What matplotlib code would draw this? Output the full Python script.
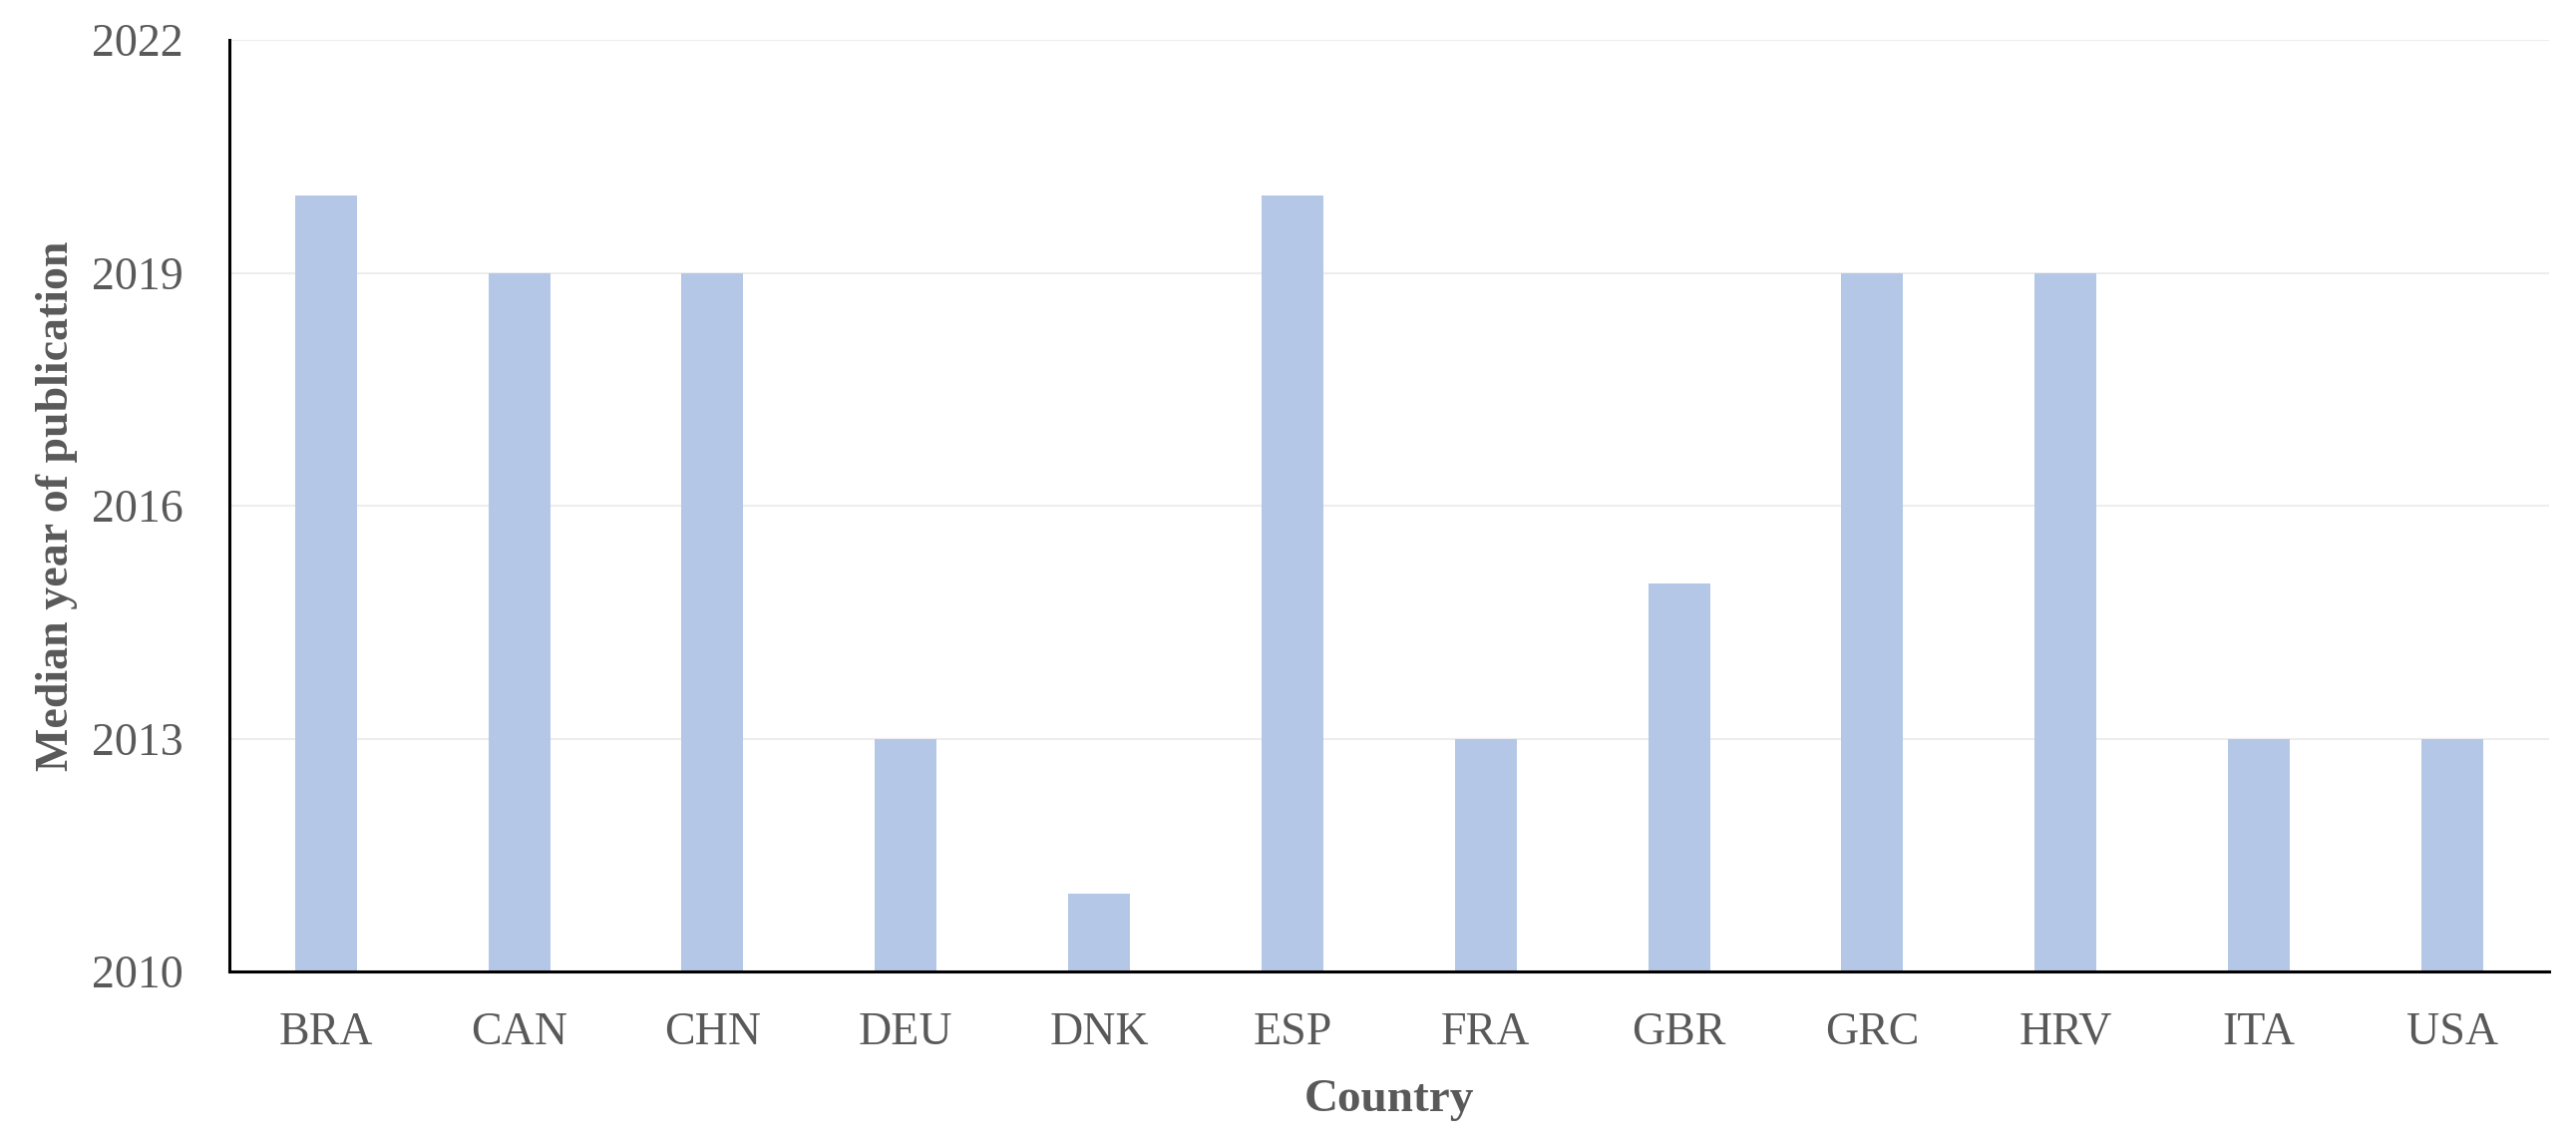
import matplotlib.pyplot as plt
import numpy as np

countries = ["BRA", "CAN", "CHN", "DEU", "DNK", "ESP", "FRA", "GBR", "GRC", "HRV", "ITA", "USA"]
median_year = [2020, 2019, 2019, 2013, 2011, 2020, 2013, 2015, 2019, 2019, 2013, 2013]
yticks = [2010, 2013, 2016, 2019, 2022]

plt.rcParams['font.family'] = ['Liberation Serif', 'DejaVu Serif']
text_col = "#595959"

fig = plt.figure(figsize=(25.83, 11.5), dpi=100)
ax = fig.add_axes([0.089, 0.153, 0.9005, 0.812])

x = np.arange(len(countries))
ax.bar(x, np.array(median_year) - 2010, bottom=2010, width=0.32, color="#B4C7E7", zorder=2)

ax.set_xlim(-0.5, len(countries) - 0.5)
ax.set_ylim(2010, 2022)
ax.set_yticks(yticks)
ax.set_xticks(x)
ax.set_xticklabels(countries)
ax.yaxis.grid(True, color="#EDEDED", linewidth=1.5, zorder=0)
ax.set_axisbelow(True)

for s in ["top", "right"]:
    ax.spines[s].set_visible(False)
ax.spines["left"].set_linewidth(2.2)
ax.spines["bottom"].set_linewidth(2.2)
ax.spines["left"].set_color("black")
ax.spines["bottom"].set_color("black")

ax.tick_params(axis="both", length=0, labelsize=33, labelcolor=text_col)
ax.tick_params(axis="y", pad=33)
ax.tick_params(axis="x", pad=29)

ax.set_xlabel("Country", fontsize=34, fontweight="bold", color=text_col, labelpad=18)
ax.set_ylabel("Median year of publication", fontsize=33, fontweight="bold", color=text_col, labelpad=10)

fig.savefig("out.png", dpi=100)
